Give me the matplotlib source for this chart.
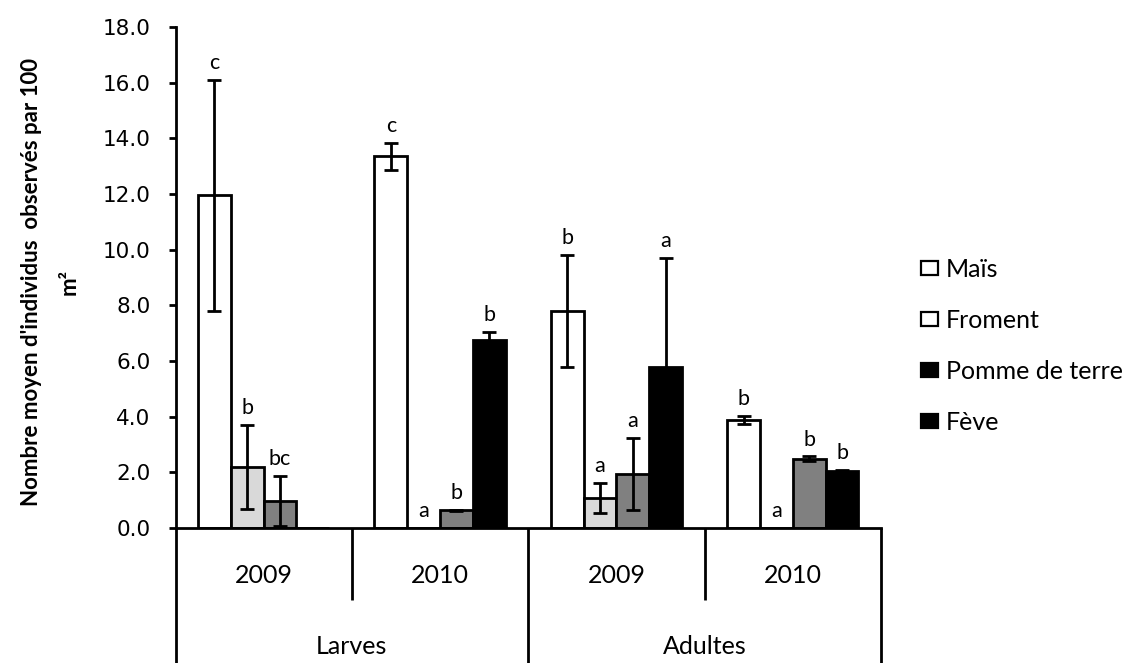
import matplotlib
matplotlib.use("Agg")
import matplotlib.pyplot as plt
import numpy as np
from matplotlib.patches import Patch

# Groups on the x axis (year within life stage)
stages = ["Larves", "Adultes"]
years = ["2009", "2010", "2009", "2010"]

# Crops (series)
crops = ["Maïs", "Froment", "Pomme de terre", "Fève"]

# Mean counts per 100 m² for each crop, in group order
mais = [11.95, 13.35, 7.8, 3.88]
froment = [2.2, 0.0, 1.08, 0.0]
pomme = [0.96, 0.63, 1.95, 2.49]
feve = [0.0, 6.75, 5.8, 2.04]

# Error bar half-lengths
err_mais = [4.15, 0.5, 2.0, 0.15]
err_froment = [1.5, 0.0, 0.55, 0.0]
err_pomme = [0.9, 0.03, 1.3, 0.08]
err_feve = [0.0, 0.3, 3.9, 0.03]

# Significance letters (empty where nothing is written)
let_mais = ["c", "c", "b", "b"]
let_froment = ["b", "a", "a", "a"]
let_pomme = ["bc", "b", "a", "b"]
let_feve = ["", "b", "a", "b"]

values = [mais, froment, pomme, feve]
errors = [err_mais, err_froment, err_pomme, err_feve]
letters = [let_mais, let_froment, let_pomme, let_feve]
faces = ["white", "#d9d9d9", "#808080", "black"]

FONT = "Lato"
LW = 2.0

fig = plt.figure(figsize=(11.39, 6.63), dpi=100)
L, R, T, B = 175.5 / 1139, 881 / 1139, 1 - 27 / 663, 1 - 528 / 663
ax = fig.add_axes([L, B, R - L, T - B])

x = np.arange(len(years))
bw = 0.186
for i, (vals, errs, lets, fc) in enumerate(zip(values, errors, letters, faces)):
    pos = x + (i - 1.5) * bw
    ax.bar(pos, vals, width=bw, color=fc, edgecolor="black", linewidth=LW, zorder=2)
    for p, v, e, l in zip(pos, vals, errs, lets):
        if e > 0:
            ax.errorbar(p, v, yerr=e, fmt="none", ecolor="black", elinewidth=LW,
                        capsize=4.7, capthick=LW, zorder=3)
        if l:
            ax.annotate(l, (p, v + e), xytext=(0, 5), textcoords="offset points",
                        ha="center", va="bottom", fontsize=15.5, family=FONT)

ax.set_xlim(-0.5, 3.5)
ax.set_ylim(0, 18)
yt = np.arange(0, 18.1, 2)
ax.set_yticks(yt)
ax.set_yticklabels([f"{v:.1f}" for v in yt], fontsize=15.5, family="DejaVu Sans")
ax.tick_params(axis="y", direction="out", length=5, width=LW, pad=13)
ax.set_xticks([])
for s in ["top", "right"]:
    ax.spines[s].set_visible(False)
ax.spines["left"].set_linewidth(LW)
ax.spines["bottom"].set_linewidth(LW)

# Multi-level category axis below the plot
trans = ax.get_xaxis_transform()
for xv, ybot in [(-0.5, -0.27), (0.5, -0.144), (1.5, -0.27), (2.5, -0.144), (3.5, -0.27)]:
    ax.plot([xv, xv], [0, ybot], color="black", lw=LW, transform=trans,
            clip_on=False, solid_capstyle="butt")
for xi, yr in zip(x, years):
    ax.text(xi, -0.094, yr, transform=trans, ha="center", va="center",
            fontsize=18, family=FONT)
for k, st in enumerate(stages):
    ax.text(2 * k + 0.5, -0.2375, st, transform=trans, ha="center", va="center",
            fontsize=18, family=FONT)

fig.text(0.0439, 0.5754, "Nombre moyen d'individus  observés par 100\nm²",
         rotation=90, ha="center", va="center", fontsize=16, fontweight="bold",
         family=FONT, linespacing=2.0)

handles = [Patch(facecolor=fc, edgecolor="black", linewidth=1.6)
           for fc in ["white", "white", "black", "black"]]
fig.legend(handles, crops, loc="upper left", bbox_to_anchor=(921 / 1139, 0.611),
           frameon=False, prop={"family": FONT, "size": 18}, borderpad=0,
           borderaxespad=0, handlelength=0.68, handleheight=0.52,
           handletextpad=0.32, labelspacing=1.12)

fig.savefig("out.png", dpi=100)
